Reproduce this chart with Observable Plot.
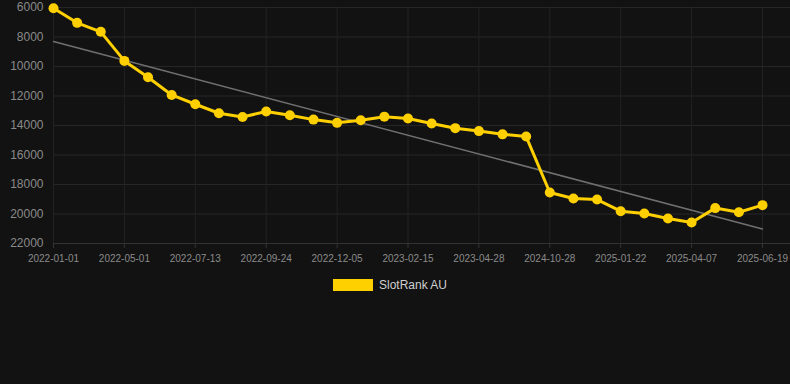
<!DOCTYPE html>
<html>
<head>
<meta charset="utf-8">
<script src="https://cdn.jsdelivr.net/npm/d3@7"></script>
<script src="https://cdn.jsdelivr.net/npm/@observablehq/plot@0.6"></script>
<style>
  html, body { margin: 0; padding: 0; background: #121212; }
  body { width: 790px; height: 384px; overflow: hidden; font-family: "Liberation Sans", Arial, sans-serif; }
  #legend { display: flex; justify-content: center; align-items: center; margin-top: 8px; margin-left: -10px; }
  #legend .sw { width: 40px; height: 12px; background: #FFD000; margin-right: 6px; }
  #legend span { color: #cfcfcf; font-size: 12px; }
</style>
</head>
<body>
<div id="chart"></div>
<div id="legend"><div class="sw"></div><span>SlotRank AU</span></div>
<script>
const seriesName = "SlotRank AU";
const rankValues = [6050, 7040, 7650, 9620, 10730, 11930, 12560, 13170, 13420, 13050,
  13300, 13600, 13820, 13650, 13400, 13530, 13870, 14180, 14380, 14600,
  14750, 18540, 18950, 19020, 19810, 19970, 20300, 20580, 19600, 19880, 19400];
const tickLabels = ["2022-01-01", "2022-05-01", "2022-07-13", "2022-09-24", "2022-12-05",
  "2023-02-15", "2023-04-28", "2024-10-28", "2025-01-22", "2025-04-07", "2025-06-19"];
const tickIndex = [0, 3, 6, 9, 12, 15, 18, 21, 24, 27, 30];
const yTicks = [6000, 8000, 10000, 12000, 14000, 16000, 18000, 20000, 22000];

const data = rankValues.map((v, i) => ({i, v}));
const yellow = "#FFD000";
const step = (762 - 53) / 30;

const chart = Plot.plot({
  width: 790,
  height: 270,
  marginLeft: 53,
  marginRight: 0,
  marginTop: 7,
  marginBottom: 27,
  style: {background: "#121212", fontFamily: "Liberation Sans, Arial, sans-serif"},
  x: {type: "linear", domain: [0, 30 + 28 / step]},
  y: {domain: [6000, 22000], reverse: true},
  marks: [
    Plot.gridY(yTicks, {stroke: "#262626", strokeOpacity: 1}),
    Plot.gridX(tickIndex, {stroke: "#222", strokeOpacity: 1}),
    Plot.ruleY([22000], {stroke: "#333"}),
    Plot.axisY(yTicks, {tickSize: 0, tickPadding: 10, fontSize: 12, fill: "#8a8a8a", tickFormat: d => String(d), label: null}),
    Plot.axisX(tickIndex, {tickSize: 5, tickPadding: 6, fontSize: 10, fill: "#8a8a8a", stroke: "#333", tickFormat: (d, k) => tickLabels[tickIndex.indexOf(d)], label: null}),
    Plot.linearRegressionY(data, {x: "i", y: "v", stroke: "#707070", strokeWidth: 1.5, ci: 0}),
    Plot.line(data, {x: "i", y: "v", stroke: yellow, strokeWidth: 3}),
    Plot.dot(data, {x: "i", y: "v", fill: yellow, r: 5})
  ]
});
document.getElementById("chart").appendChild(chart);
</script>
</body>
</html>
